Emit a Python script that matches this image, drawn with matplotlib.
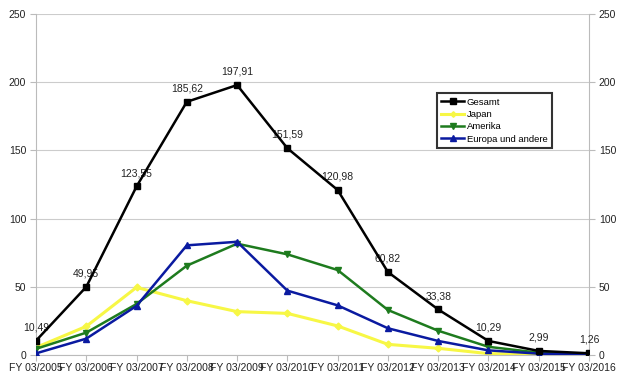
import matplotlib
matplotlib.use("Agg")
import matplotlib.pyplot as plt

plt.rcParams['font.family'] = ['Liberation Sans', 'DejaVu Sans']

categories = ["FY 03/2005", "FY 03/2006", "FY 03/2007", "FY 03/2008", "FY 03/2009", "FY 03/2010",
              "FY 03/2011", "FY 03/2012", "FY 03/2013", "FY 03/2014", "FY 03/2015", "FY 03/2016"]
gesamt = [10.49, 49.95, 123.55, 185.62, 197.91, 151.59, 120.98, 60.82, 33.38, 10.29, 2.99, 1.26]
japan = [5.5, 21.0, 49.6, 39.8, 31.8, 30.5, 21.3, 7.8, 4.9, 1.0, 0.5, 0.3]
amerika = [4.5, 16.4, 37.4, 65.5, 81.6, 73.8, 62.3, 33.0, 17.8, 6.0, 1.7, 0.8]
europa = [1.2, 12.0, 36.0, 80.4, 83.0, 47.2, 36.4, 19.6, 10.3, 3.4, 1.0, 0.3]
gesamt_labels = ["10,49", "49,95", "123,55", "185,62", "197,91", "151,59", "120,98", "60,82", "33,38", "10,29", "2,99", "1,26"]
yticks = [0, 50, 100, 150, 200, 250]

fig = plt.figure(figsize=(6.25, 3.89), dpi=100)
ax = fig.add_axes([0.0576, 0.0874, 0.8848, 0.8766])
x = list(range(len(categories)))

ax.plot(x, gesamt, color='black', marker='s', markersize=5, lw=1.8, label='Gesamt', zorder=5)
ax.plot(x, japan, color='#f7f745', marker='D', markersize=3.5, lw=2.2, label='Japan', zorder=2)
ax.plot(x, amerika, color='#1e7b1e', marker='v', markersize=5, lw=1.8, label='Amerika', zorder=3)
ax.plot(x, europa, color='#0a1aa0', marker='^', markersize=5, lw=1.8, label='Europa und andere', zorder=4)

for xi, v, lab in zip(x, gesamt, gesamt_labels):
    ax.annotate(lab, (xi, v), xytext=(0, 6), textcoords='offset points', ha='center', va='bottom', fontsize=7.5, color='#222222')

ax.set_xlim(0, len(categories) - 1)
ax.set_ylim(0, 250)
ax.set_yticks(yticks)
ax.set_xticks(x)
ax.set_xticklabels(categories, fontsize=7.5)
ax.tick_params(axis='y', labelsize=7.5, length=4, color='#bbbbbb', labelcolor='#222222', pad=3)
ax.tick_params(axis='x', length=4, color='#bbbbbb', labelcolor='#222222', pad=2)
ax.yaxis.grid(True, color='#cccccc', lw=0.8)
ax.set_axisbelow(True)
for s in ['top']:
    ax.spines[s].set_visible(False)
for s in ['left', 'right', 'bottom']:
    ax.spines[s].set_color('#bbbbbb')
    ax.spines[s].set_linewidth(0.8)

ax2 = ax.twinx()
ax2.set_ylim(0, 250)
ax2.set_yticks(yticks)
ax2.tick_params(axis='y', labelsize=7.5, length=4, color='#bbbbbb', labelcolor='#222222', pad=3)
for s in ['top', 'left', 'bottom', 'right']:
    ax2.spines[s].set_visible(False)

leg = ax.legend(loc='upper left', bbox_to_anchor=(0.716, 0.782), fontsize=6.8, frameon=True, fancybox=False,
                edgecolor='black', handlelength=2.4, handletextpad=0.3, labelspacing=0.35, borderpad=0.5,
                markerscale=0.8)
leg.get_frame().set_linewidth(1.5)

fig.savefig('out.png', dpi=100)
